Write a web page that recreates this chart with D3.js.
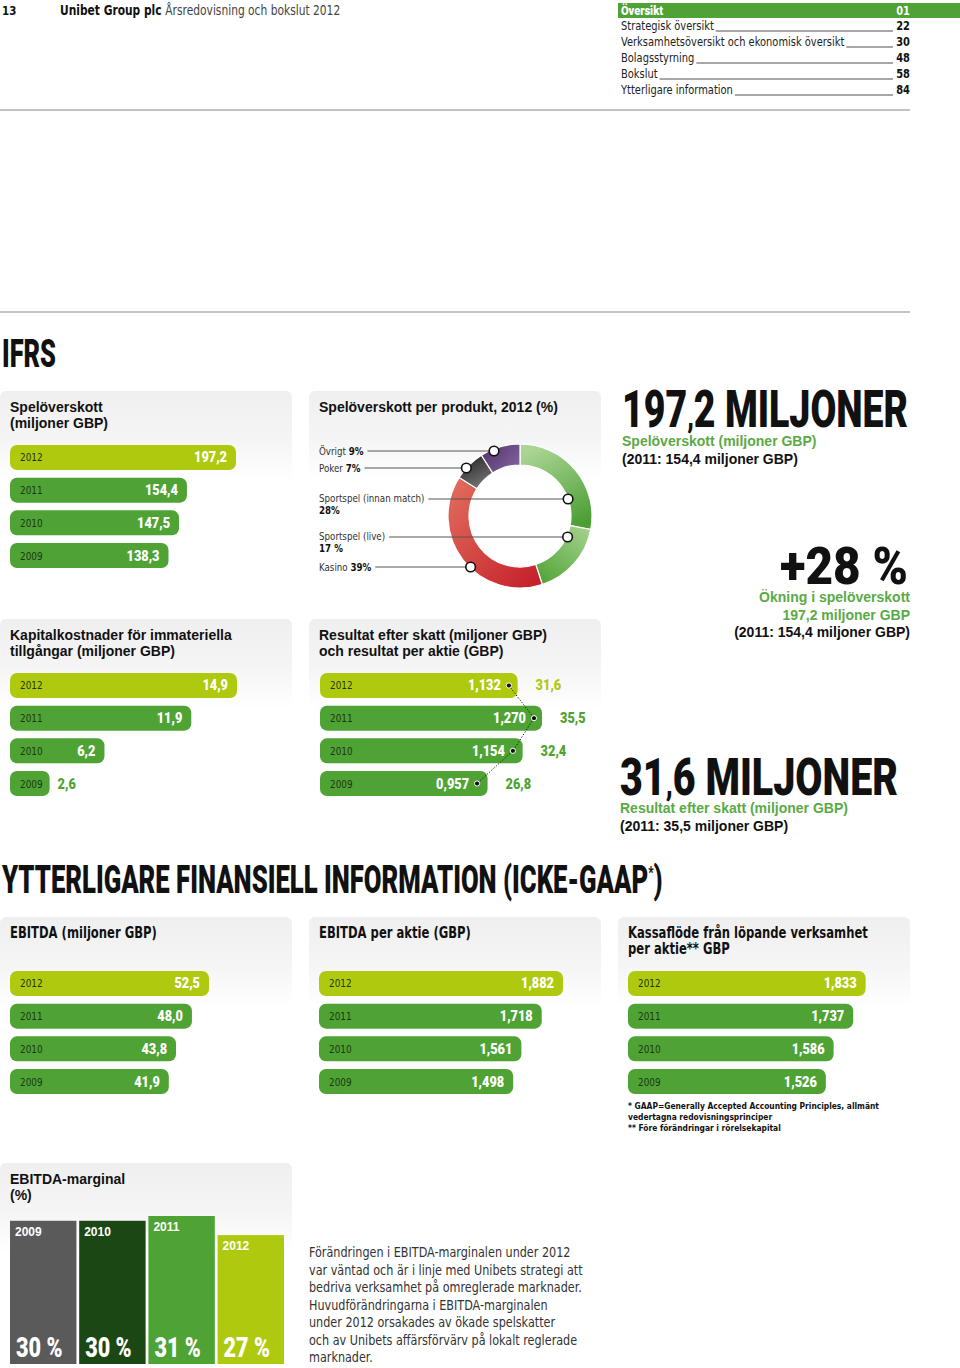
<!DOCTYPE html>
<html>
<head>
<meta charset="utf-8">
<script src="https://cdn.jsdelivr.net/npm/d3@7"></script>
<style>
  body { margin: 0; background: #fff; }
  svg { display: block; }
</style>
</head>
<body>
<div id="chart"></div>
<script>
// ---- data ----
const years = ["2012", "2011", "2010", "2009"];
const spelOverskott = [197.2, 154.4, 147.5, 138.3];
const kapitalkostnader = [14.9, 11.9, 6.2, 2.6];
const resultatEfterSkatt = [31.6, 35.5, 32.4, 26.8];
const resultatPerAktie = [1.132, 1.270, 1.154, 0.957];
const ebitda = [52.5, 48.0, 43.8, 41.9];
const ebitdaPerAktie = [1.882, 1.718, 1.561, 1.498];
const kassaflode = [1.833, 1.737, 1.586, 1.526];

const produkter = ["Sportspel (innan match)", "Sportspel (live)", "Kasino", "Poker", "Övrigt"];
const produktAndel = [28, 17, 39, 7, 9];

const marginYears = ["2009", "2010", "2011", "2012"];
const ebitdaMarginal = [30, 30, 31, 27];

const tocLabels = ["Strategisk översikt", "Verksamhetsöversikt och ekonomisk översikt", "Bolagsstyrning", "Bokslut", "Ytterligare information"];
const tocPages = ["22", "30", "48", "58", "84"];

// ---- fonts / colours ----
const COND = "'Liberation Sans Narrow','DejaVu Sans Condensed','Roboto Condensed',sans-serif";
const SANS = "'Liberation Sans',Arial,Helvetica,sans-serif";
const DISPLAY = "Roboto,'DejaVu Sans',sans-serif";
const GREEN = "#4ea334", LIME = "#afc90f", TXTGREEN = "#5aaa46";

const sv = d3.formatLocale({decimal: ",", thousands: " ", grouping: [3], currency: ["", " kr"]});
const f1 = sv.format(".1f"), f3 = sv.format(".3f");

const svg = d3.select("#chart").append("svg").attr("width", 960).attr("height", 1368);
const defs = svg.append("defs");

// text squeezed horizontally (the page uses a condensed typeface)
function ctext(x, y, str, o) {
  o = o || {};
  const sx = o.sx || 0.88;
  const t = svg.append("text").attr("transform", `translate(${x},${y}) scale(${sx},1)`)
    .attr("font-family", o.family || COND).attr("font-size", o.size || 12.5)
    .attr("font-weight", o.weight || 400).attr("fill", o.fill || "#222")
    .attr("text-anchor", o.anchor || "start");
  if (str != null) t.text(str);
  t.sx = sx;
  return t;
}

// big display type fitted to a given width
function fitText(x, y, size, len, anchor, build) {
  const t = svg.append("text").attr("font-family", DISPLAY).attr("font-weight", 900)
    .attr("font-size", size).attr("fill", "#111").attr("text-anchor", anchor || "start");
  build(t);
  const w = t.node().getComputedTextLength();
  t.attr("transform", `translate(${x},${y}) scale(${len / w},1)`);
  return t;
}
// number with a short comma, as in the display face of the page
function bigNumber(t, str) {
  const parts = str.split(",");
  t.append("tspan").text(parts[0]);
  t.append("tspan").attr("font-size", 34).text(",");
  t.append("tspan").text(parts[1]);
}

// panel background gradient
const pg = defs.append("linearGradient").attr("id", "panelGrad").attr("x1", 0).attr("y1", 0).attr("x2", 0).attr("y2", 1);
pg.append("stop").attr("offset", 0).attr("stop-color", "#efefef");
pg.append("stop").attr("offset", 0.55).attr("stop-color", "#f5f5f5");
pg.append("stop").attr("offset", 1).attr("stop-color", "#ffffff");

// ---- page header ----
ctext(2, 15, "13", {weight: 700, size: 13, fill: "#111"});
const hdr = ctext(60, 15, null, {size: 13.5, fill: "#111"});
hdr.append("tspan").attr("font-weight", 700).text("Unibet Group plc ");
hdr.append("tspan").attr("fill", "#444").text("Årsredovisning och bokslut 2012");

// table of contents
svg.append("rect").attr("x", 618).attr("y", 3).attr("width", 342).attr("height", 15).attr("fill", GREEN);
ctext(621, 15, "Översikt", {family: DISPLAY, weight: 900, size: 13, fill: "#fff", sx: 0.85});
ctext(910, 15, "01", {weight: 700, size: 12.5, fill: "#fff", anchor: "end"});

const tocY = d3.scaleBand().domain(tocLabels).range([18, 98]);
tocLabels.forEach((t, i) => {
  const yb = tocY(t) + 12;
  const lab = ctext(621, yb, t, {size: 12.5, fill: "#222"});
  const w = lab.node().getComputedTextLength() * lab.sx;
  svg.append("line").attr("x1", 621 + w + 2).attr("x2", 893).attr("y1", yb + 1).attr("y2", yb + 1)
    .attr("stroke", "#222").attr("stroke-width", 0.8);
  ctext(910, yb, tocPages[i], {weight: 700, size: 12.5, fill: "#111", anchor: "end"});
});

svg.append("line").attr("x1", 0).attr("x2", 910).attr("y1", 110).attr("y2", 110).attr("stroke", "#888").attr("stroke-width", 1.2);
svg.append("line").attr("x1", 0).attr("x2", 910).attr("y1", 312).attr("y2", 312).attr("stroke", "#888").attr("stroke-width", 1.2);

// ---- big display texts ----
fitText(2, 367, 38, 54, "start", t => t.text("IFRS"));
fitText(622, 427, 51, 286, "start", t => { bigNumber(t, "197,2"); t.append("tspan").text(" MILJONER"); });
fitText(908, 584, 51, 128, "end", t => t.text("+28 %"));
fitText(620, 795, 51, 278, "start", t => { bigNumber(t, "31,6"); t.append("tspan").text(" MILJONER"); });
fitText(2, 893, 38, 661, "start", t => {
  t.append("tspan").text("YTTERLIGARE FINANSIELL INFORMATION (ICKE-GAAP");
  t.append("tspan").attr("font-size", 17).attr("dy", -15).text("*");
  t.append("tspan").attr("dy", 15).text(")");
});

function infoLines(x, y, anchor, lines) {
  lines.forEach((l, i) => {
    svg.append("text").attr("x", x).attr("y", y + i * 17.5).attr("text-anchor", anchor)
      .attr("font-family", SANS).attr("font-weight", 700).attr("font-size", 14)
      .attr("fill", l[1]).text(l[0]);
  });
}
infoLines(622, 446, "start", [["Spelöverskott (miljoner GBP)", TXTGREEN], ["(2011: 154,4 miljoner GBP)", "#111"]]);
infoLines(910, 602, "end", [["Ökning i spelöverskott", TXTGREEN], ["197,2 miljoner GBP", TXTGREEN], ["(2011: 154,4 miljoner GBP)", "#111"]]);
infoLines(620, 813, "start", [["Resultat efter skatt (miljoner GBP)", TXTGREEN], ["(2011: 35,5 miljoner GBP)", "#111"]]);

// ---- panels ----
function panel(x, y, h, lines, cond) {
  svg.append("rect").attr("x", x).attr("y", y).attr("width", 292).attr("height", h).attr("rx", 6)
    .attr("fill", "url(#panelGrad)");
  lines.forEach((l, i) => {
    if (cond) {
      ctext(x + 10, y + 21 + i * 16, l, {weight: 700, size: 15, fill: "#111", sx: 0.86});
    } else {
      svg.append("text").attr("x", x + 10).attr("y", y + 21 + i * 16).attr("font-family", SANS)
        .attr("font-weight", 700).attr("font-size", 14).attr("fill", "#111").text(l);
    }
  });
}
panel(0, 391, 90, ["Spelöverskott", "(miljoner GBP)"]);
panel(309, 391, 90, ["Spelöverskott per produkt, 2012 (%)"]);
panel(0, 619, 90, ["Kapitalkostnader för immateriella", "tillgångar (miljoner GBP)"]);
panel(309, 619, 90, ["Resultat efter skatt (miljoner GBP)", "och resultat per aktie (GBP)"]);
panel(0, 917, 90, ["EBITDA (miljoner GBP)"], true);
panel(309, 917, 90, ["EBITDA per aktie (GBP)"], true);
panel(618, 917, 90, ["Kassaflöde från löpande verksamhet", "per aktie** GBP"], true);
panel(0, 1163, 90, ["EBITDA-marginal", "(%)"]);

// ---- horizontal year bars ----
const barColor = d3.scaleOrdinal().domain(years).range([LIME, GREEN, GREEN, GREEN]);

function valueText(sel, xf, yf, anchor, fill, txt) {
  sel.append("text").attr("transform", (d, i) => `translate(${xf(d, i)},${yf(d, i)}) scale(0.88,1)`)
    .attr("text-anchor", anchor).attr("font-family", DISPLAY).attr("font-weight", 900).attr("font-size", 14.5)
    .attr("fill", fill).text(txt);
}

function hbars(opt) {
  const x = d3.scaleLinear().domain(opt.domain || [0, d3.max(opt.values)]).range([0, opt.maxW]);
  const y = d3.scaleBand().domain(years).range([opt.top, opt.top + 123]).paddingInner(0.235);
  const g = svg.append("g");
  const rows = g.selectAll("g").data(years.map((yr, i) => ({yr, v: opt.values[i], i}))).join("g");
  rows.append("rect").attr("x", opt.x0).attr("y", d => y(d.yr)).attr("width", d => x(d.v))
    .attr("height", y.bandwidth()).attr("rx", 7).attr("fill", d => barColor(d.yr));
  rows.append("text").attr("transform", d => `translate(${opt.x0 + 10},${y(d.yr) + y.bandwidth() / 2 + 4}) scale(0.9,1)`)
    .attr("font-family", COND).attr("font-size", 11).attr("fill", "#1e3512").text(d => d.yr);
  if (opt.label !== false) {
    rows.each(function (d) {
      const inside = x(d.v) > 70;
      valueText(d3.select(this),
        () => inside ? opt.x0 + x(d.v) - 9 : opt.x0 + x(d.v) + 8,
        () => y(d.yr) + y.bandwidth() / 2 + 5,
        inside ? "end" : "start", inside ? "#fff" : GREEN, opt.fmt(d.v));
    });
  }
  return {x, y, rows};
}

hbars({x0: 10, top: 445, values: spelOverskott, maxW: 226, fmt: f1});
hbars({x0: 10, top: 673, values: kapitalkostnader, maxW: 227, fmt: f1});
hbars({x0: 10, top: 971, values: ebitda, maxW: 199, fmt: f1});
hbars({x0: 319, top: 971, values: ebitdaPerAktie, maxW: 244, fmt: f3});
hbars({x0: 628, top: 971, values: kassaflode, domain: [0, d3.max(ebitdaPerAktie)], maxW: 244, fmt: f3});

// result after tax (bars) + earnings per share (dots)
const res = hbars({x0: 320, top: 673, values: resultatEfterSkatt, maxW: 222, label: false});
const eps = d3.scaleLinear().domain([0, d3.max(resultatPerAktie)]).range([303, 534]);
const epsPts = years.map((yr, i) => [eps(resultatPerAktie[i]), res.y(yr) + res.y.bandwidth() / 2]);
svg.append("path").attr("d", d3.line()(epsPts)).attr("fill", "none").attr("stroke", "#111")
  .attr("stroke-width", 1).attr("stroke-dasharray", "1.2,1.8");
svg.selectAll(".epsdot").data(epsPts).join("circle").attr("class", "epsdot")
  .attr("cx", d => d[0]).attr("cy", d => d[1]).attr("r", 2.6).attr("fill", "#111")
  .attr("stroke", "#fff").attr("stroke-width", 1);
valueText(res.rows, (d, i) => epsPts[i][0] - 8, d => res.y(d.yr) + res.y.bandwidth() / 2 + 5,
  "end", "#fff", (d, i) => f3(resultatPerAktie[i]));
res.rows.each(function (d) {
  valueText(d3.select(this), () => 320 + res.x(d.v) + 18, () => res.y(d.yr) + res.y.bandwidth() / 2 + 5,
    "start", d.yr === "2012" ? LIME : GREEN, f1(d.v));
});

// ---- donut: revenue per product ----
const segGrad = [
  ["#acd595", "#4a9e33", 0.3, 0, 0.7, 1],
  ["#a9d392", "#55a63a", 1, 0, 0.2, 1],
  ["#e2705f", "#c41c28", 0, 0, 1, 1],
  ["#262626", "#7d7d7d", 0.3, 0, 0.8, 1],
  ["#52306c", "#7c5e98", 0, 0, 1, 0.6]
];
segGrad.forEach((s, i) => {
  const lg = defs.append("linearGradient").attr("id", "seg" + i)
    .attr("x1", s[2]).attr("y1", s[3]).attr("x2", s[4]).attr("y2", s[5]);
  lg.append("stop").attr("offset", 0).attr("stop-color", s[0]);
  lg.append("stop").attr("offset", 1).attr("stop-color", s[1]);
});
const cx = 520, cy = 516, rIn = 51, rOut = 72;
const pie = d3.pie().sort(null).value(d => d)(produktAndel);
const arc = d3.arc().innerRadius(rIn).outerRadius(rOut);
const donut = svg.append("g").attr("transform", `translate(${cx},${cy})`);
donut.selectAll("path").data(pie).join("path").attr("d", arc)
  .attr("fill", (d, i) => `url(#seg${i})`).attr("stroke", "#fff").attr("stroke-width", 1.2);

// leader labels (layout: label baseline, leader y, radius of the dot, side of the ring)
const labelLayout = [
  {p: 0, y: 502, ly: 499, r: 51, side: 1, two: true},
  {p: 1, y: 540, ly: 537, r: 52, side: 1, two: true},
  {p: 2, y: 571, ly: 567, r: 71, side: -1, two: false},
  {p: 3, y: 472, ly: 468, r: 72, side: -1, two: false},
  {p: 4, y: 455, ly: 451, r: 70, side: -1, two: false}
];
labelLayout.forEach(L => {
  const name = produkter[L.p], pct = produktAndel[L.p];
  const t = ctext(319, L.y, null, {size: 11, fill: "#333"});
  if (L.two) {
    t.text(name);
    ctext(319, L.y + 12, pct === 17 ? pct + " %" : pct + "%", {size: 11, weight: 700, fill: "#111"});
  } else {
    t.append("tspan").text(name + " ");
    t.append("tspan").attr("font-weight", 700).attr("fill", "#111").text(pct + "%");
  }
  const w = t.node().getComputedTextLength() * t.sx;
  const dx = Math.sqrt(L.r * L.r - (L.ly - cy) * (L.ly - cy));
  const px = cx + L.side * dx;
  svg.append("line").attr("x1", 319 + w + 4).attr("x2", px).attr("y1", L.ly).attr("y2", L.ly)
    .attr("stroke", "#555").attr("stroke-width", 1);
  svg.append("circle").attr("cx", px).attr("cy", L.ly).attr("r", 4.8).attr("fill", "#fff")
    .attr("stroke", "#111").attr("stroke-width", 1.6);
});

// ---- EBITDA margin columns ----
const mx = d3.scaleBand().domain(marginYears).range([10, 284]).paddingInner(0.04);
const my = d3.scaleLinear().domain([0, 31]).range([1364, 1216]);
const mColor = d3.scaleOrdinal().domain(marginYears).range(["#5a5a5a", "#1b4714", "#4ea334", LIME]);
const cols = svg.append("g").selectAll("g").data(marginYears.map((yr, i) => ({yr, v: ebitdaMarginal[i]}))).join("g");
cols.append("rect").attr("x", d => mx(d.yr)).attr("y", d => my(d.v)).attr("width", mx.bandwidth())
  .attr("height", d => my(0) - my(d.v)).attr("fill", d => mColor(d.yr));
cols.append("text").attr("x", d => mx(d.yr) + 5).attr("y", d => my(d.v) + 15).attr("font-family", SANS)
  .attr("font-weight", 700).attr("font-size", 12).attr("fill", "#fff").text(d => d.yr);
cols.append("text").attr("transform", d => `translate(${mx(d.yr) + 6},1357) scale(0.8,1)`).attr("font-family", DISPLAY)
  .attr("font-weight", 900).attr("font-size", 27).attr("fill", "#fff").text(d => d.v + " %");

// paragraph
const para = [
  "Förändringen i EBITDA-marginalen under 2012",
  "var väntad och är i linje med Unibets strategi att",
  "bedriva verksamhet på omreglerade marknader.",
  "Huvudförändringarna i EBITDA-marginalen",
  "under 2012 orsakades av ökade spelskatter",
  "och av Unibets affärsförvärv på lokalt reglerade",
  "marknader."
];
para.forEach((l, i) => ctext(309, 1257 + i * 17.5, l, {size: 14, fill: "#333", sx: 0.89}));

// footnotes
["*  GAAP=Generally Accepted Accounting Principles, allmänt", "vedertagna redovisningsprinciper", "** Före förändringar i rörelsekapital"]
  .forEach((l, i) => ctext(628, 1109 + i * 11, l, {weight: 700, size: 9, fill: "#111", sx: 0.93}));
</script>
</body>
</html>
